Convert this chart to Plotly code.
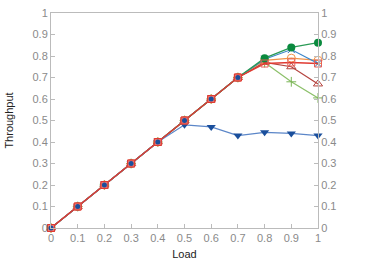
import plotly.graph_objects as go

load = [0, 0.1, 0.2, 0.3, 0.4, 0.5, 0.6, 0.7, 0.8, 0.9, 1.0]
base = [0, 0.1, 0.2, 0.3, 0.4, 0.5, 0.6, 0.7]
s_blue_tri = [0, 0.1, 0.2, 0.3, 0.4, 0.48, 0.47, 0.43, 0.445, 0.44, 0.43]
s_green_circ = base + [0.79, 0.84, 0.862]
s_blue_x = base + [0.785, 0.83, 0.765]
s_orange_circ = base + [0.78, 0.79, 0.78]
s_red_sq = base + [0.765, 0.77, 0.765]
s_darkred_tri = base + [0.77, 0.75, 0.67]
s_lgreen_plus = base + [0.77, 0.68, 0.605]
ticks = [0, 0.1, 0.2, 0.3, 0.4, 0.5, 0.6, 0.7, 0.8, 0.9, 1]
tick_text = ["0", "0.1", "0.2", "0.3", "0.4", "0.5", "0.6", "0.7", "0.8", "0.9", "1"]

fig = go.Figure()

def add(y, line_color, marker_color, symbol, size, open_=False, lw=1.2):
    fig.add_trace(go.Scatter(
        x=load, y=y, mode="lines+markers",
        line=dict(color=line_color, width=lw),
        marker=dict(symbol=symbol, size=size, color=marker_color,
                    line=dict(color=marker_color, width=1 if open_ else 0)),
        showlegend=False, cliponaxis=False))

add(s_lgreen_plus, "#8cc06a", "#7ab456", "cross-thin-open", 7, True)
add(s_darkred_tri, "#b5443f", "#b5443f", "triangle-up-open", 8, True)
add(s_orange_circ, "#f0944a", "#f0944a", "circle-open", 8, True)
add(s_blue_x, "#3b86c8", "#2f6fb0", "x-thin-open", 7, True)
add(s_green_circ, "#2a9a55", "#0a8a3e", "circle", 8)
add(s_blue_tri, "#5b86c8", "#1a4f9c", "triangle-down", 8)
add(s_red_sq, "#e03a32", "#e86058", "square-open", 7, True, 1.4)
# base markers (red square with blue dot)
fig.add_trace(go.Scatter(x=load[:8], y=base, mode="markers",
    marker=dict(symbol="square", size=7, color="#e8776e",
                line=dict(color="#e03a32", width=1)),
    showlegend=False, cliponaxis=False))
fig.add_trace(go.Scatter(x=load[:8], y=base, mode="markers",
    marker=dict(symbol="circle", size=5, color="#1a4f9c"),
    showlegend=False, cliponaxis=False))
fig.add_trace(go.Scatter(x=[0], y=[0], yaxis="y2", mode="markers",
    marker=dict(opacity=0), showlegend=False, hoverinfo="skip"))

axis_common = dict(
    range=[0, 1], tickvals=ticks, ticktext=tick_text,
    ticks="inside", ticklen=4, tickcolor="#bbbbbb",
    showline=True, linecolor="#bbbbbb", linewidth=1,
    showgrid=False, zeroline=False, automargin=False,
    tickfont=dict(family="Liberation Sans, Arial", size=11, color="#8a8a8a"),
)

fig.update_layout(
    width=374, height=262,
    margin=dict(l=51, r=56, t=13, b=34),
    plot_bgcolor="white", paper_bgcolor="white",
    xaxis=dict(**axis_common, mirror=True,
               title=dict(text="Load", standoff=7,
                          font=dict(family="Liberation Sans, Arial", size=11, color="#222"))),
    yaxis=dict(**axis_common, mirror=True,
               title=dict(text="Throughput", standoff=16,
                          font=dict(family="Liberation Sans, Arial", size=11, color="#222"))),
    yaxis2=dict(**axis_common, overlaying="y", side="right"),
)

fig.write_html("out.html", config={"displayModeBar": False},
               post_script="document.body.style.margin='0px';")
